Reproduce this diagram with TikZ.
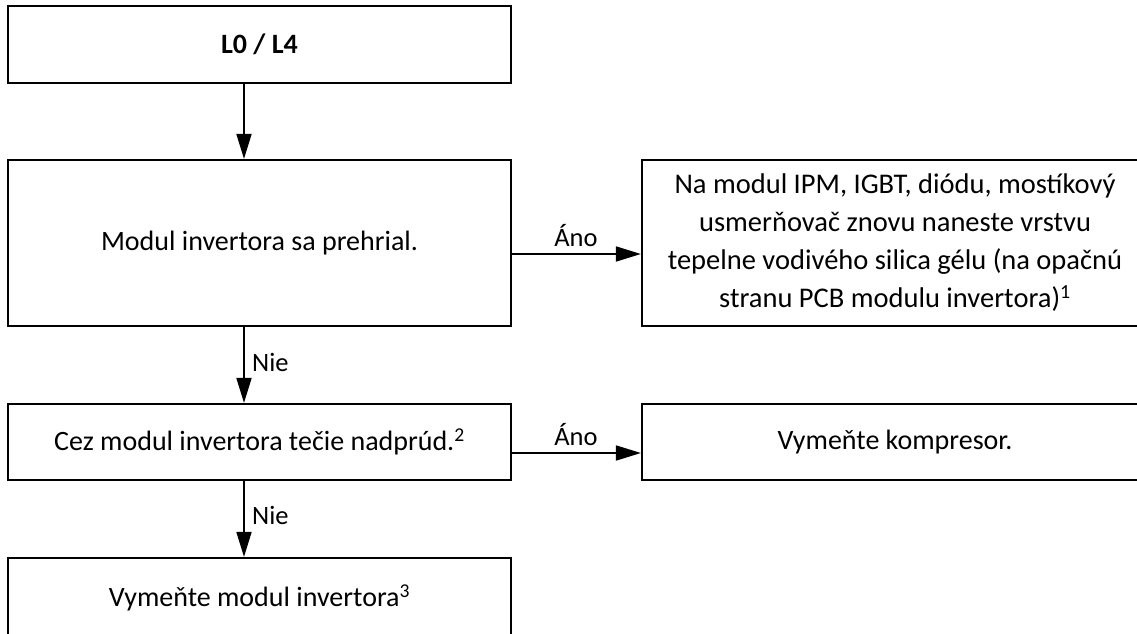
\documentclass[tikz,border=0pt]{standalone}
\usepackage{fontspec}
\setmainfont{Carlito}
\usetikzlibrary{arrows.meta}
\begin{document}
\begin{tikzpicture}[x=1pt,y=-1pt,
  box/.style={draw, line width=2.2pt, minimum width=503pt, inner sep=0pt,
    font=\fontsize{28}{38}\selectfont, align=center},
  arr/.style={line width=1.8pt, -{Triangle[length=25pt,width=15pt]}},
  lbl/.style={font=\fontsize{26.5}{30}\selectfont, inner sep=0pt}]
\useasboundingbox (0,0) rectangle (1137,634);
\clip (0,0) rectangle (1137,634);
\node[box, minimum height=77pt] (b1) at (259.5,44.5) {\textbf{L0 / L4}};
\node[box, minimum height=166pt] (b2) at (259.5,243) {Modul invertora sa prehrial.};
\node[box, minimum width=506pt, minimum height=166pt, font=\fontsize{28.5}{38}\selectfont] (bA) at (895,243)
  {Na modul IPM, IGBT, diódu, mostíkový\\usmerňovač znovu naneste vrstvu\\tepelne vodivého silica gélu (na opačnú\\stranu PCB modulu invertora)\textsuperscript{1}};
\node[box, minimum height=76pt] (b3) at (259.5,442) {Cez modul invertora tečie nadprúd.\textsuperscript{2}};
\node[box, minimum width=506pt, minimum height=76pt] (bK) at (895,442) {Vymeňte kompresor.};
\node[box, minimum height=80pt] (b4) at (259.5,598) {Vymeňte modul invertora\textsuperscript{3}};
\coordinate (ax) at (244,0);
\coordinate (ay1) at (0,254);
\coordinate (ay2) at (0,453);
\draw[arr] (b1.south -| ax) -- (b2.north -| ax);
\draw[arr] (b2.south -| ax) -- (b3.north -| ax);
\draw[arr] (b3.south -| ax) -- (b4.north -| ax);
\draw[arr] (b2.east |- ay1) -- (bA.west |- ay1);
\draw[arr] (b3.east |- ay2) -- (bK.west |- ay2);
\node[lbl, anchor=west] (n1) at (252,362) {Nie};
\node[lbl, anchor=west] (n2) at (252,515) {Nie};
\node[lbl] (a1) at (576,236) {Áno};
\node[lbl] (a2) at (576,435) {Áno};
\end{tikzpicture}
\end{document}
